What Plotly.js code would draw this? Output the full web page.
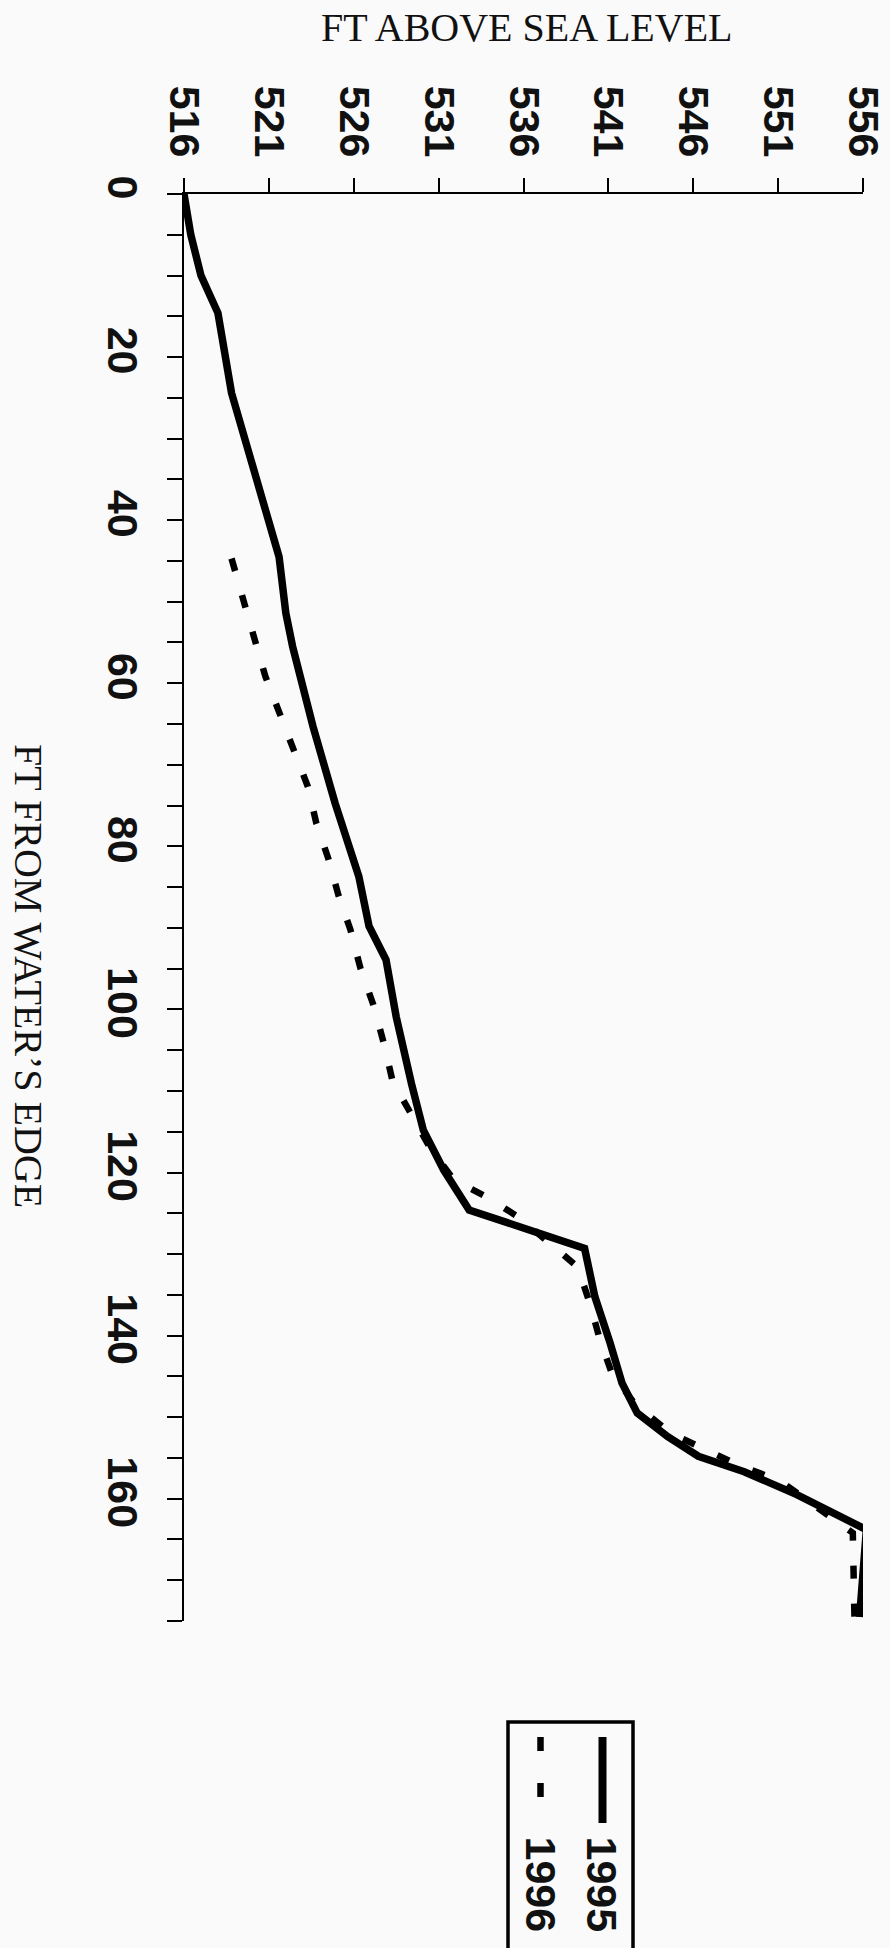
<!DOCTYPE html>
<html>
<head>
<meta charset="utf-8">
<script src="https://cdn.plot.ly/plotly-3.0.1.min.js"></script>
<style>
html,body{margin:0;padding:0;background:#fafafa;}
#chart{width:890px;height:1948px;}
</style>
</head>
<body>
<div id="chart"></div>
<script>
// ---- data ----
const distance1995 = [0, 5, 10, 14.6, 24.4, 33.8, 44.5, 51.4, 55.5, 65.3, 74.7, 83.7, 89.8, 93.9, 100.9, 109.1, 114.8, 119.7, 124.6, 129.3, 135.2, 140.9, 145.8, 149.5, 152.4, 154.8, 156.7, 159.5, 163.8, 174.5];
const elevation1995 = [516.0, 516.4, 517.0, 518.0, 518.8, 520.1, 521.6, 522.0, 522.4, 523.6, 524.9, 526.3, 526.9, 527.9, 528.5, 529.4, 530.1, 531.3, 532.8, 539.6, 540.2, 541.1, 541.8, 542.7, 544.5, 546.3, 549.0, 552.1, 556.2, 555.8];
const distance1996 = [44.7, 50.2, 54.9, 59.2, 68.2, 72.7, 77.2, 81.5, 86.0, 90.2, 95.0, 99.7, 104.4, 108.9, 112.9, 117.0, 120.9, 123.2, 125.6, 131.6, 136.0, 140.5, 144.6, 148.5, 152.0, 154.0, 156.0, 157.8, 164.2, 175.0];
const elevation1996 = [518.8, 519.6, 520.2, 520.8, 522.5, 523.3, 523.8, 524.5, 525.1, 525.8, 526.4, 527.2, 527.8, 528.3, 529.4, 530.5, 531.9, 534.0, 535.8, 539.2, 539.9, 540.5, 541.2, 542.6, 544.7, 546.8, 548.8, 551.1, 555.4, 555.5];
const seriesNames = ['1995', '1996'];
const elevationTicks = [516, 521, 526, 531, 536, 541, 546, 551, 556];
const distanceTicks = [0, 5, 10, 15, 20, 25, 30, 35, 40, 45, 50, 55, 60, 65, 70, 75, 80, 85, 90, 95, 100, 105, 110, 115, 120, 125, 130, 135, 140, 145, 150, 155, 160, 165, 170, 175];
const distanceTickText = ['0', '', '', '', '20', '', '', '', '40', '', '', '', '60', '', '', '', '80', '', '', '', '100', '', '', '', '120', '', '', '', '140', '', '', '', '160', '', '', ''];
const elevationTitle = 'FT ABOVE SEA LEVEL';
const distanceTitle = 'FT FROM WATER\u2019S EDGE';

// ---- layout geometry (pixels) ----
const W = 890, H = 1948;
const L = 184, R = 863, T = 194, B = 1621;
const px = v => (v - L) / (R - L);
const py = v => (B - v) / (B - T);

const tickFont = {family: '"Liberation Sans", Arial, Helvetica, sans-serif', size: 43, color: '#111', weight: 700};
const titleFont = {family: '"Liberation Serif", "Times New Roman", Times, serif', size: 40, color: '#111'};

const traces = [
  {x: elevation1995, y: distance1995, name: seriesNames[0], type: 'scatter', mode: 'lines',
   line: {color: '#000', width: 7.5}},
  {x: elevation1996, y: distance1996, name: seriesNames[1], type: 'scatter', mode: 'lines',
   line: {color: '#000', width: 6.5, dash: '13px,25px'}}
];

const layout = {
  width: W, height: H,
  margin: {l: L, r: W - R, t: T, b: H - B, pad: 0},
  paper_bgcolor: '#fafafa', plot_bgcolor: 'rgba(0,0,0,0)',
  showlegend: false,
  xaxis: {
    side: 'top', range: [516, 556], tickmode: 'array', tickvals: elevationTicks,
    ticktext: elevationTicks.map(String),
    ticks: 'outside', ticklen: 14, tickwidth: 2, tickcolor: '#000',
    showline: true, linewidth: 2.5, linecolor: '#000',
    showgrid: false, zeroline: false, tickangle: 90, tickfont: tickFont,
    ticklabelstandoff: 5, ticklabeloverflow: 'allow', automargin: false, fixedrange: true
  },
  yaxis: {
    range: [175, 0], tickmode: 'array', tickvals: distanceTicks, ticktext: distanceTickText,
    ticks: 'outside', ticklen: 15, tickwidth: 2, tickcolor: '#000',
    showline: true, linewidth: 2.5, linecolor: '#000',
    showgrid: false, zeroline: false, tickangle: 90, tickfont: tickFont,
    ticklabelstandoff: 7, ticklabeloverflow: 'allow', automargin: false, fixedrange: true
  },
  annotations: [
    {text: elevationTitle, xref: 'paper', yref: 'paper', x: px(527), y: py(28),
     xanchor: 'center', yanchor: 'middle', showarrow: false, font: titleFont},
    {text: distanceTitle, xref: 'paper', yref: 'paper', x: px(28), y: py(976),
     xanchor: 'center', yanchor: 'middle', showarrow: false, textangle: 90, font: titleFont},
    {text: seriesNames[0], xref: 'paper', yref: 'paper', x: px(601.5), y: py(1884),
     xanchor: 'center', yanchor: 'middle', showarrow: false, textangle: 90, font: Object.assign({}, tickFont, {size: 43})},
    {text: seriesNames[1], xref: 'paper', yref: 'paper', x: px(540.5), y: py(1884),
     xanchor: 'center', yanchor: 'middle', showarrow: false, textangle: 90, font: Object.assign({}, tickFont, {size: 43})}
  ],
  shapes: [
    {type: 'rect', xref: 'paper', yref: 'paper', x0: px(508), x1: px(633), y0: py(1722), y1: py(1990),
     line: {color: '#000', width: 3.5}, fillcolor: 'rgba(0,0,0,0)', layer: 'above'},
    {type: 'line', xref: 'paper', yref: 'paper', x0: px(602.5), x1: px(602.5), y0: py(1737), y1: py(1823),
     line: {color: '#000', width: 8}},
    {type: 'line', xref: 'paper', yref: 'paper', x0: px(540.5), x1: px(540.5), y0: py(1737), y1: py(1823),
     line: {color: '#000', width: 6.5, dash: '14px,32px'}}
  ]
};

Plotly.newPlot('chart', traces, layout, {displayModeBar: false, staticPlot: true});
</script>
</body>
</html>
